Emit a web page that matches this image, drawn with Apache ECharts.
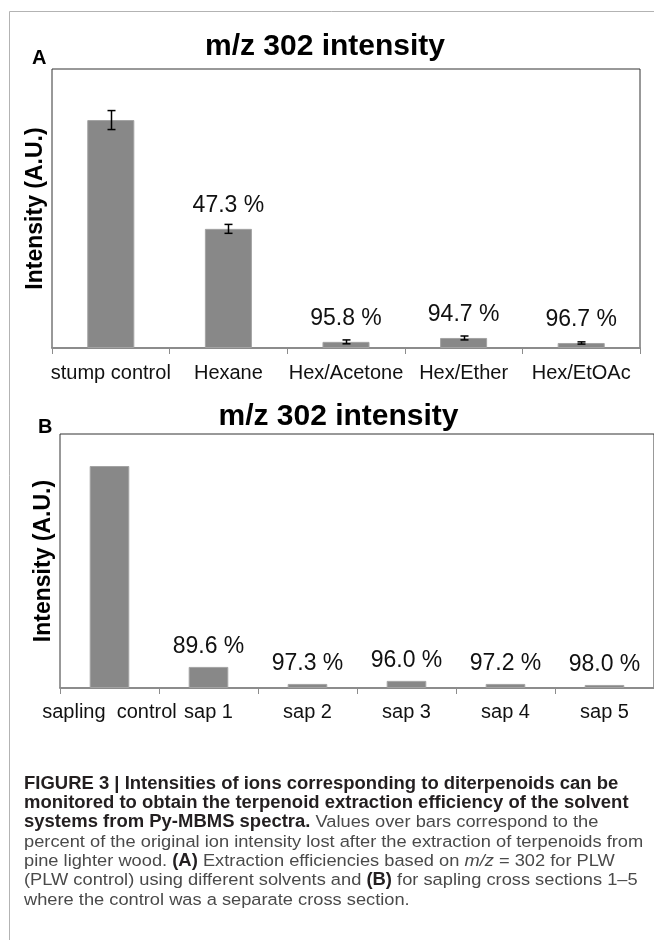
<!DOCTYPE html>
<html>
<head>
<meta charset="utf-8">
<script src="https://cdn.jsdelivr.net/npm/echarts@6/dist/echarts.min.js"></script>
<style>
  html, body { margin: 0; padding: 0; background: #fff; }
  #chart { width: 654px; height: 940px; }
</style>
</head>
<body>
<div id="chart"></div>
<script>
// panel A: PLW extracted with different solvents
const catsA = ['stump control', 'Hexane', 'Hex/Acetone', 'Hex/Ether', 'Hex/EtOAc'];
const valsA = [81.7, 42.7, 2.2, 3.6, 1.8];
const errA = [3.4, 1.6, 0.7, 0.7, 0.4];
const pctA = ['', '47.3 %', '95.8 %', '94.7 %', '96.7 %'];

// panel B: sapling cross sections
const catsB = ['sapling  control', 'sap 1', 'sap 2', 'sap 3', 'sap 4', 'sap 5'];
const valsB = [87.4, 8.3, 1.6, 2.8, 1.6, 1.2];
const pctB = ['', '89.6 %', '97.3 %', '96.0 %', '97.2 %', '98.0 %'];

const chartTitle = 'm/z 302 intensity';
const yName = 'Intensity (A.U.)';

const captionLines = [
  '{b|FIGURE 3 | Intensities of ions corresponding to diterpenoids can be}',
  '{b|monitored to obtain the terpenoid extraction efficiency of the solvent}',
  '{b|systems from Py-MBMS spectra.}{n| Values over bars correspond to the}',
  '{n|percent of the original ion intensity lost after the extraction of terpenoids from}',
  '{n|pine lighter wood. }{b|(A)}{n| Extraction efficiencies based on }{i|m/z}{n| = 302 for PLW}',
  '{n|(PLW control) using different solvents and }{b|(B)}{n| for sapling cross sections 1–5}',
  '{n|where the control was a separate cross section.}'
];

const FONT = '"Liberation Sans", Arial, Helvetica, sans-serif';
const BAR = '#888888';

function axisX(cats, gridIndex, margin) {
  return {
    type: 'category',
    gridIndex: gridIndex,
    data: cats,
    axisLine: { lineStyle: { color: '#8c8c8c', width: 2 } },
    axisTick: { show: true, length: 6, lineStyle: { color: '#8c8c8c', width: 1 } },
    axisLabel: { fontSize: 20, color: '#111', margin: margin, interval: 0 }
  };
}

function axisY(gridIndex) {
  return {
    type: 'value',
    gridIndex: gridIndex,
    min: 0,
    max: 100,
    name: yName,
    nameLocation: 'middle',
    nameGap: 5,
    nameTextStyle: { fontSize: 23, fontWeight: 'bold', color: '#000' },
    axisLine: { show: false },
    axisTick: { show: false },
    axisLabel: { show: false },
    splitLine: { show: false }
  };
}

function barSeries(vals, pcts, idx, dist) {
  return {
    type: 'bar',
    xAxisIndex: idx,
    yAxisIndex: idx,
    data: vals,
    barWidth: '40%',
    itemStyle: { color: BAR, borderColor: '#a3a3a3', borderWidth: 1 },
    label: {
      show: true,
      position: 'top',
      distance: dist,
      fontSize: 23,
      color: '#111',
      formatter: p => pcts[p.dataIndex]
    },
    silent: true
  };
}

const errData = valsA.map((v, i) => [i, v - errA[i], v + errA[i]]);

const textEl = (x, y, text, size, weight, align) => ({
  type: 'text',
  x: x,
  y: y,
  silent: true,
  style: {
    text: text,
    fontSize: size,
    fontWeight: weight,
    fontFamily: FONT,
    fill: '#000',
    align: align,
    verticalAlign: 'middle'
  }
});

const graphics = [
  { type: 'line', silent: true, shape: { x1: 9.5, y1: 11.5, x2: 654, y2: 11.5 }, style: { stroke: '#b3b3b3', lineWidth: 1 } },
  { type: 'line', silent: true, shape: { x1: 9.5, y1: 11.5, x2: 9.5, y2: 940 }, style: { stroke: '#b3b3b3', lineWidth: 1 } },
  textEl(325, 46.5, chartTitle, 30, 'bold', 'center'),
  textEl(338.5, 416.5, chartTitle, 30, 'bold', 'center'),
  textEl(32, 58, 'A', 20, 'bold', 'left'),
  textEl(38, 427, 'B', 20, 'bold', 'left')
];

// caption, one text per printed line (slightly widened font)
captionLines.forEach((line, i) => {
  graphics.push({
    type: 'text',
    x: 24,
    y: 784 + i * 19.3,
    scaleX: 1.05,
    silent: true,
    style: {
      text: line,
      fontFamily: FONT,
      fontSize: 17.5,
      verticalAlign: 'middle',
      rich: {
        b: { fontSize: 17.6, fontWeight: 'bold', fill: '#231f20', fontFamily: FONT },
        n: { fontSize: 17.4, fill: '#4a4a4a', fontFamily: FONT },
        i: { fontSize: 17.4, fontStyle: 'italic', fill: '#4a4a4a', fontFamily: FONT }
      }
    }
  });
});

const chart = echarts.init(document.getElementById('chart'), null, { renderer: 'canvas' });

chart.setOption({
  animation: false,
  backgroundColor: '#fff',
  textStyle: { fontFamily: FONT },
  grid: [
    { left: 52, top: 69, right: 14, bottom: 592, show: true, borderColor: '#333', borderWidth: 1, backgroundColor: 'transparent' },
    { left: 60, top: 434, right: -3, bottom: 252, show: true, borderColor: '#333', borderWidth: 1, backgroundColor: 'transparent' }
  ],
  xAxis: [axisX(catsA, 0, 15), axisX(catsB, 1, 14)],
  yAxis: [axisY(0), axisY(1)],
  series: [
    barSeries(valsA, pctA, 0, 12),
    barSeries(valsB, pctB, 1, 9),
    {
      type: 'custom',
      xAxisIndex: 0,
      yAxisIndex: 0,
      data: errData,
      encode: { x: 0, y: [1, 2] },
      silent: true,
      z: 5,
      renderItem: (params, api) => {
        const lo = api.coord([api.value(0), api.value(1)]);
        const hi = api.coord([api.value(0), api.value(2)]);
        const x = Math.round(lo[0]) + 0.5;
        const half = 4;
        const st = { stroke: '#000', lineWidth: 1.5 };
        return {
          type: 'group',
          children: [
            { type: 'line', shape: { x1: x, y1: lo[1], x2: x, y2: hi[1] }, style: st },
            { type: 'line', shape: { x1: x - half, y1: lo[1], x2: x + half, y2: lo[1] }, style: st },
            { type: 'line', shape: { x1: x - half, y1: hi[1], x2: x + half, y2: hi[1] }, style: st }
          ]
        };
      }
    }
  ],
  graphic: graphics
});
</script>
</body>
</html>
